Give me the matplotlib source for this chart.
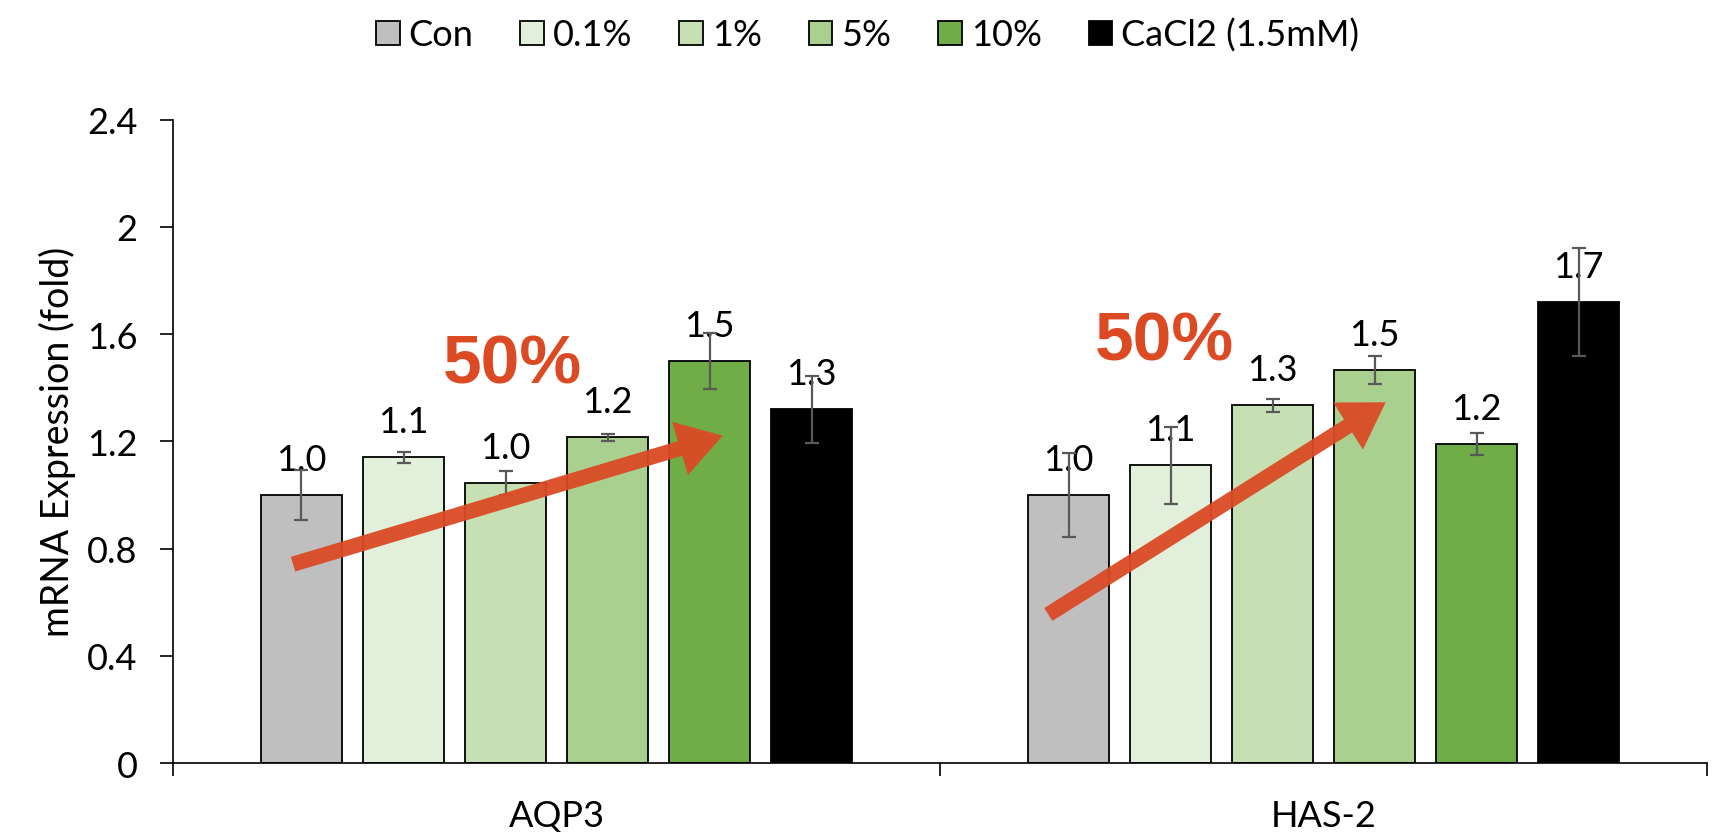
import numpy as np
import matplotlib.pyplot as plt
from matplotlib.patches import FancyArrowPatch, ArrowStyle

genes = ['AQP3', 'HAS-2']
groups = ['Con', '0.1%', '1%', '5%', '10%', 'CaCl2 (1.5mM)']
colors = ['#BFBFBF', '#E2EFDA', '#C6E0B4', '#A9D08E', '#70AD47', '#000000']

# rows = genes, cols = groups
means = np.array([[1.00, 1.14, 1.045, 1.215, 1.50, 1.32],
                  [1.00, 1.11, 1.335, 1.465, 1.19, 1.72]])
errs = np.array([[0.095, 0.021, 0.044, 0.012, 0.105, 0.125],
                 [0.158, 0.143, 0.024, 0.053, 0.041, 0.20]])

plt.rcParams['font.family'] = ['Lato', 'DejaVu Sans']

fig = plt.figure(figsize=(17.18, 8.37), dpi=100)
ax = fig.add_axes([0.1007, 0.087, 0.893, 0.769])

centers = np.array([0.5, 1.5])
step = 0.133
width = 0.106
for j, g in enumerate(groups):
    xs = centers + (j - 2.5) * step
    ax.bar(xs, means[:, j], width, color=colors[j], edgecolor='black',
           linewidth=1.3, label=g, zorder=2)
    ax.errorbar(xs, means[:, j], yerr=errs[:, j], fmt='none', ecolor='#595959',
                elinewidth=1.6, capsize=5, capthick=1.6, zorder=4)
    for x, v in zip(xs, means[:, j]):
        ax.annotate(f'{v:.1f}', (x, v), xytext=(0, 18), textcoords='offset points',
                    ha='center', va='baseline', fontsize=26, zorder=3)

# red arrows and 50% labels
arrow_start = [(0.153, 0.739), (1.138, 0.549)]
arrow_end = [(0.720, 1.224), (1.584, 1.351)]
pct_pos = [(0.442, 1.485), (1.292, 1.571)]
for s, e, p in zip(arrow_start, arrow_end, pct_pos):
    arr = FancyArrowPatch(s, e, arrowstyle=ArrowStyle.Simple(head_length=32, head_width=40, tail_width=11),
                          mutation_scale=1, color='#DA4A25', alpha=0.95, zorder=5, linewidth=0)
    ax.add_patch(arr)
    ax.text(p[0], p[1], '50%', color='#DC4A23', fontsize=50, fontweight='bold',
            family='Liberation Sans', ha='center', va='center', zorder=6)

ax.set_xlim(0, 2)
ax.set_ylim(0, 2.4)
ax.set_yticks(np.arange(0, 2.41, 0.4))
ax.set_yticklabels([f'{t:g}' for t in np.arange(0, 2.41, 0.4)])
ax.set_xticks([0, 1, 2])
ax.set_xticklabels([])
ax.set_xticks(centers, minor=True)
ax.set_xticklabels(genes, minor=True)
ax.tick_params(axis='x', which='major', length=9.5, width=1.2, color='black')
ax.tick_params(axis='x', which='minor', length=0, labelsize=26, pad=26)
ax.tick_params(axis='y', length=9.5, width=1.2, color='black', labelsize=26, pad=16)
ax.set_ylabel('mRNA Expression (fold)', fontsize=27, labelpad=8)
for sp in ['top', 'right']:
    ax.spines[sp].set_visible(False)
ax.spines['left'].set_linewidth(1.2)
ax.spines['bottom'].set_linewidth(1.2)

fig.legend(loc='upper center', bbox_to_anchor=(0.505, 1.017), ncol=6, frameon=False,
           fontsize=26, handlelength=0.65, handleheight=0.65, handletextpad=0.25,
           columnspacing=1.3)

plt.savefig('out.png', dpi=100)
